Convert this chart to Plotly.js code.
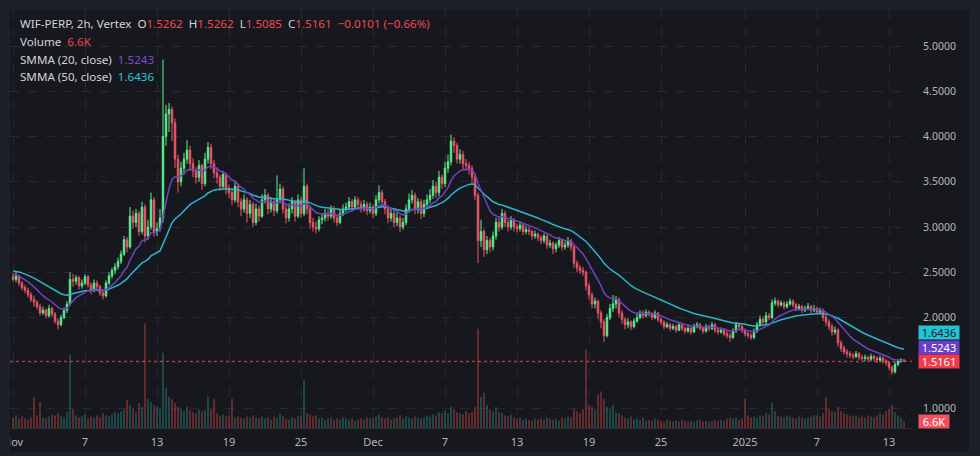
<!DOCTYPE html>
<html><head><meta charset="utf-8">
<script src="https://cdn.plot.ly/plotly-3.0.1.min.js"></script>
<style>html,body{margin:0;padding:0;background:#17181d;overflow:hidden}#chart{width:980px;height:456px}</style>
</head><body><div id="chart"></div>
<script>
// ---- DATA (6-hour candles, Nov 1 2024 00:00 UTC onward) ----
const startTime = Date.UTC(2024, 10, 1, 0, 0);
const stepHours = 6;
const open = [
2.45,2.42,2.46,2.38, 2.33,2.30,2.25,2.20, 2.17,2.12,2.05,2.08, 2.02,2.10,2.04,1.96, 1.92,2.00,2.08,2.15,
2.42,2.40,2.44,2.35, 2.38,2.45,2.36,2.30, 2.38,2.34,2.27,2.24, 2.38,2.46,2.52,2.56, 2.62,2.70,2.86,2.78,
3.12,3.05,3.15,2.95, 3.22,2.90,3.00,3.30, 2.95,2.98,3.10,4.00, 4.25,4.30,4.15,3.75, 3.50,3.65,3.75,3.85,
3.70,3.62,3.55,3.68, 3.48,3.75,3.88,3.70, 3.60,3.55,3.45,3.58, 3.42,3.38,3.30,3.45, 3.28,3.20,3.30,3.15,
3.25,3.05,3.20,3.12, 3.30,3.35,3.20,3.28, 3.18,3.30,3.42,3.20, 3.10,3.20,3.28,3.12, 3.30,3.15,3.45,3.20,
3.05,3.00,2.98,3.08, 3.10,3.15,3.12,3.20, 3.10,3.05,3.15,3.20, 3.22,3.28,3.22,3.30, 3.25,3.20,3.25,3.18,
3.22,3.15,3.30,3.38, 3.28,3.20,3.10,3.15, 3.05,3.10,3.00,3.05, 3.20,3.30,3.35,3.20, 3.28,3.15,3.25,3.30,
3.35,3.45,3.38,3.55, 3.48,3.65,3.72,3.95, 3.90,3.75,3.80,3.70, 3.68,3.65,3.55,3.35, 2.85,2.95,2.75,2.85,
2.78,2.90,3.05,3.00, 3.15,3.05,3.00,3.08, 3.00,2.98,3.02,2.95, 2.97,2.95,2.90,2.92, 2.88,2.85,2.90,2.80,
2.82,2.76,2.80,2.85, 2.78,2.80,2.85,2.78, 2.60,2.55,2.52,2.50, 2.35,2.25,2.15,2.18, 2.05,1.95,1.80,2.00,
2.10,2.15,2.20,2.05, 1.98,1.92,1.95,1.90, 1.96,2.00,2.05,2.02, 2.06,2.04,2.00,2.05, 1.98,1.95,1.90,1.92,
1.88,1.90,1.86,1.92, 1.88,1.85,1.88,1.84, 1.90,1.92,1.88,1.85, 1.90,1.88,1.92,1.86, 1.84,1.86,1.82,1.80,
1.78,1.85,1.92,1.90, 1.86,1.82,1.80,1.78, 1.85,1.92,1.98,1.95, 2.02,2.00,2.16,2.18, 2.14,2.16,2.12,2.15,
2.18,2.14,2.10,2.12, 2.08,2.10,2.12,2.08, 2.10,2.06,2.08,2.00, 1.95,1.90,1.84,1.86, 1.72,1.66,1.62,1.60,
1.58,1.57,1.60,1.56, 1.55,1.56,1.54,1.57, 1.55,1.53,1.55,1.52, 1.50,1.45,1.40,1.48, 1.52,1.53];
const high = [
2.49,2.50,2.47,2.40, 2.36,2.33,2.28,2.24, 2.19,2.15,2.12,2.10, 2.14,2.12,2.06,1.99, 2.03,2.11,2.18,2.50,
2.48,2.47,2.46,2.42, 2.48,2.47,2.39,2.42, 2.41,2.36,2.30,2.41, 2.50,2.55,2.60,2.66, 2.74,2.90,2.89,3.22,
3.18,3.20,3.18,3.28, 3.25,3.08,3.38,3.33, 3.05,3.20,4.85,4.35, 4.37,4.33,4.20,3.80, 3.72,3.82,3.96,3.90,
3.76,3.66,3.74,3.70, 3.82,3.94,3.92,3.74, 3.66,3.58,3.62,3.60, 3.47,3.42,3.50,3.48, 3.32,3.36,3.33,3.30,
3.28,3.26,3.24,3.36, 3.42,3.38,3.33,3.31, 3.57,3.48,3.45,3.24, 3.26,3.33,3.30,3.36, 3.34,3.65,3.48,3.24,
3.10,3.06,3.12,3.15, 3.20,3.19,3.24,3.23, 3.14,3.19,3.25,3.27, 3.33,3.31,3.34,3.33, 3.29,3.30,3.28,3.27,
3.25,3.35,3.46,3.41, 3.31,3.24,3.21,3.18, 3.16,3.13,3.10,3.25, 3.37,3.41,3.38,3.32, 3.31,3.30,3.36,3.42,
3.52,3.50,3.62,3.58, 3.72,3.80,4.02,3.99, 3.93,3.86,3.84,3.75, 3.72,3.68,3.58,3.38, 3.08,2.98,2.90,2.88,
2.95,3.10,3.10,3.20, 3.18,3.08,3.12,3.10, 3.04,3.06,3.04,3.01, 3.00,2.97,2.96,2.94, 2.91,2.93,2.92,2.86,
2.84,2.83,2.89,2.87, 2.84,2.89,2.87,2.80, 2.63,2.58,2.56,2.52, 2.38,2.28,2.22,2.20, 2.08,1.98,2.04,2.15,
2.25,2.24,2.22,2.08, 2.00,1.99,1.97,1.99, 2.04,2.08,2.08,2.09, 2.08,2.06,2.08,2.06, 2.00,1.97,1.95,1.94,
1.93,1.92,1.95,1.94, 1.90,1.91,1.90,1.93, 1.95,1.94,1.90,1.93, 1.92,1.95,1.94,1.89, 1.89,1.88,1.85,1.83,
1.88,1.95,1.94,1.92, 1.88,1.84,1.83,1.88, 1.95,2.02,2.01,2.06, 2.05,2.20,2.22,2.20, 2.19,2.18,2.18,2.21,
2.20,2.16,2.15,2.14, 2.13,2.16,2.14,2.14, 2.12,2.11,2.10,2.03, 1.98,1.93,1.90,1.88, 1.75,1.69,1.65,1.63,
1.61,1.63,1.62,1.59, 1.59,1.58,1.60,1.59, 1.57,1.58,1.57,1.54, 1.52,1.47,1.51,1.54, 1.55,1.54];
const low = [
2.40,2.39,2.35,2.30, 2.27,2.22,2.17,2.12, 2.09,2.02,2.03,1.99, 2.00,2.01,1.93,1.87, 1.90,1.98,2.05,2.13,
2.34,2.36,2.31,2.32, 2.36,2.33,2.26,2.28, 2.30,2.24,2.20,2.22, 2.36,2.43,2.48,2.53, 2.59,2.68,2.72,2.76,
2.98,3.00,2.90,2.92, 2.83,2.86,2.97,2.89, 2.90,2.95,3.05,3.90, 4.05,3.95,3.65,3.38, 3.45,3.58,3.70,3.62,
3.55,3.48,3.50,3.41, 3.45,3.70,3.64,3.54, 3.48,3.40,3.42,3.36, 3.32,3.24,3.27,3.22, 3.12,3.16,3.05,3.10,
3.00,3.02,3.06,3.10, 3.26,3.14,3.16,3.12, 3.15,3.26,3.15,3.04, 3.06,3.15,3.06,3.10, 3.10,3.12,3.14,2.98,
2.95,2.93,2.95,3.03, 3.06,3.07,3.09,3.05, 3.01,3.03,3.12,3.17, 3.19,3.18,3.19,3.20, 3.16,3.17,3.13,3.15,
3.10,3.12,3.26,3.22, 3.14,3.04,3.06,3.00, 3.01,2.94,2.97,3.02, 3.16,3.26,3.14,3.15, 3.09,3.11,3.21,3.26,
3.31,3.32,3.34,3.42, 3.44,3.60,3.68,3.82, 3.70,3.70,3.64,3.62, 3.58,3.48,3.30,2.60, 2.78,2.67,2.70,2.72,
2.74,2.86,2.95,2.97, 3.00,2.95,2.97,2.95, 2.94,2.95,2.91,2.92, 2.91,2.86,2.87,2.84, 2.81,2.82,2.76,2.77,
2.70,2.72,2.77,2.74, 2.75,2.77,2.74,2.55, 2.50,2.48,2.46,2.30, 2.20,2.10,2.10,1.98, 1.88,1.73,1.78,1.97,
2.06,2.10,2.00,1.93, 1.87,1.88,1.86,1.88, 1.94,1.98,1.99,2.00, 2.01,1.97,1.98,1.95, 1.92,1.87,1.88,1.85,
1.86,1.83,1.85,1.85, 1.82,1.83,1.81,1.83, 1.88,1.86,1.82,1.83, 1.85,1.86,1.83,1.81, 1.82,1.79,1.77,1.73,
1.76,1.83,1.87,1.83, 1.79,1.77,1.75,1.76, 1.83,1.90,1.92,1.93, 1.97,1.98,2.13,2.11, 2.12,2.09,2.10,2.13,
2.11,2.07,2.08,2.05, 2.06,2.08,2.05,2.06, 2.03,2.03,1.96,1.91, 1.86,1.80,1.81,1.68, 1.62,1.59,1.56,1.55,
1.54,1.55,1.53,1.52, 1.52,1.51,1.52,1.52, 1.50,1.51,1.49,1.47, 1.42,1.37,1.38,1.46, 1.50,1.5085];
const close = [
2.42,2.46,2.38,2.33, 2.30,2.25,2.20,2.17, 2.12,2.05,2.08,2.02, 2.10,2.04,1.96,1.92, 2.00,2.08,2.15,2.42,
2.40,2.44,2.35,2.38, 2.45,2.36,2.30,2.38, 2.34,2.27,2.24,2.38, 2.46,2.52,2.56,2.62, 2.70,2.86,2.78,3.12,
3.05,3.15,2.95,3.22, 2.90,3.00,3.30,2.95, 2.98,3.10,4.00,4.25, 4.30,4.15,3.75,3.50, 3.65,3.75,3.85,3.70,
3.62,3.55,3.68,3.48, 3.75,3.88,3.70,3.60, 3.55,3.45,3.58,3.42, 3.38,3.30,3.45,3.28, 3.20,3.30,3.15,3.25,
3.05,3.20,3.12,3.30, 3.35,3.20,3.28,3.18, 3.30,3.42,3.20,3.10, 3.20,3.28,3.12,3.30, 3.15,3.45,3.20,3.05,
3.00,2.98,3.08,3.10, 3.15,3.12,3.20,3.10, 3.05,3.15,3.20,3.22, 3.28,3.22,3.30,3.25, 3.20,3.25,3.18,3.22,
3.15,3.30,3.38,3.28, 3.20,3.10,3.15,3.05, 3.10,3.00,3.05,3.20, 3.30,3.35,3.20,3.28, 3.15,3.25,3.30,3.35,
3.45,3.38,3.55,3.48, 3.65,3.72,3.95,3.90, 3.75,3.80,3.70,3.68, 3.65,3.55,3.35,2.85, 2.95,2.75,2.85,2.78,
2.90,3.05,3.00,3.15, 3.05,3.00,3.08,3.00, 2.98,3.02,2.95,2.97, 2.95,2.90,2.92,2.88, 2.85,2.90,2.80,2.82,
2.76,2.80,2.85,2.78, 2.80,2.85,2.78,2.60, 2.55,2.52,2.50,2.35, 2.25,2.15,2.18,2.05, 1.95,1.80,2.00,2.10,
2.15,2.20,2.05,1.98, 1.92,1.95,1.90,1.96, 2.00,2.05,2.02,2.06, 2.04,2.00,2.05,1.98, 1.95,1.90,1.92,1.88,
1.90,1.86,1.92,1.88, 1.85,1.88,1.84,1.90, 1.92,1.88,1.85,1.90, 1.88,1.92,1.86,1.84, 1.86,1.82,1.80,1.78,
1.85,1.92,1.90,1.86, 1.82,1.80,1.78,1.85, 1.92,1.98,1.95,2.02, 2.00,2.16,2.18,2.14, 2.16,2.12,2.15,2.18,
2.14,2.10,2.12,2.08, 2.10,2.12,2.08,2.10, 2.06,2.08,2.00,1.95, 1.90,1.84,1.86,1.72, 1.66,1.62,1.60,1.58,
1.57,1.60,1.56,1.55, 1.56,1.54,1.57,1.55, 1.53,1.55,1.52,1.50, 1.45,1.40,1.48,1.52, 1.53,1.5161];
const volumeK = [
10,12,9,11, 9,8,10,30, 12,25,10,9, 11,13,12,14, 12,10,15,70,
18,12,10,11, 13,9,11,10, 12,10,14,12, 11,13,15,14, 16,18,27,22,
19,15,24,20, 100,28,25,22, 20,18,72,38, 30,28,24,20, 18,16,20,17,
15,14,18,16, 17,30,18,28, 14,12,13,11, 12,28,10,11, 10,9,11,10,
12,10,9,11, 9,10,8,11, 10,14,11,9, 8,10,9,11, 12,46,14,13,
11,12,9,10, 8,9,10,8, 9,8,10,9, 8,9,7,8, 9,8,10,9,
10,11,13,10, 9,10,8,9, 10,12,9,11, 10,9,11,10, 9,10,12,11,
13,12,15,14, 16,14,20,18, 15,14,13,16, 14,15,20,95, 30,34,22,18,
16,20,15,14, 12,11,13,10, 9,10,8,9, 8,7,9,8, 9,8,10,9,
8,9,7,10, 9,11,10,18, 16,14,18,75, 22,20,18,32, 35,28,20,18,
22,15,14,12, 10,9,11,8, 9,8,10,7, 8,7,9,8, 7,6,8,7,
6,7,6,8, 7,6,7,6, 7,8,6,7, 6,7,8,7, 8,7,9,10,
9,10,8,9, 28,12,10,11, 10,12,11,14, 13,24,16,12, 11,10,12,11,
10,9,11,10, 9,10,11,12, 12,11,14,30, 18,16,15,20, 16,14,13,12,
11,12,10,11, 10,12,11,10, 12,14,13,16, 18,22,15,12, 10,6.6];
// SMMA values just before the first visible candle, read from the left edge
const smmaSeed20 = 2.48, smmaSeed50 = 2.52;
// Values printed in the legend for the last 2h bar
const lastO = '1.5262', lastH = '1.5262', lastL = '1.5085', lastC = 1.5161;
const lastChange = '\u22120.0101 (\u22120.66%)', lastVolume = '6.6K', lastVolumeK = 6.6;
const smma20Last = 1.5243, smma50Last = 1.6436;
const tickDates = ['2024-11-01','2024-11-07','2024-11-13','2024-11-19','2024-11-25','2024-12-01','2024-12-07','2024-12-13','2024-12-19','2024-12-25','2025-01-01','2025-01-07','2025-01-13'];
const tickLabels = ['Nov','7','13','19','25','Dec','7','13','19','25','2025','7','13'];
const priceTicks = [1,1.5,2,2.5,3,3.5,4,4.5,5];

// ---- BUILD ----
const n = close.length;
const times = [];
for (let i = 0; i < n; i++) {
  times.push(new Date(startTime + i * stepHours * 3600e3).toISOString().slice(0,16).replace('T',' '));
}
// SMMA on 2h closes; each 6h candle = 3 steps
function smma(src, period, seed) {
  const a = 1 - Math.pow(1 - 1/period, 3);
  let s = seed;
  return src.map(c => (s = s + a * (c - s)));
}
const s20 = smma(close, 20, smmaSeed20);
const s50 = smma(close, 50, smmaSeed50);

const UP = '#5cf08d', DN = '#f0566a';
const volColors = close.map((c,i) => c >= open[i] ? 'rgba(38,166,154,0.42)' : 'rgba(239,83,80,0.42)');
const FONT = 'Noto Sans, Roboto, sans-serif';
const TXT = '#b2b5be', RED = '#f0475a';
const GRID = '#262932';

const traces = [
  {type:'bar', x:times, y:volumeK, yaxis:'y2', marker:{color:volColors, line:{width:0}}, hoverinfo:'skip'},
  {type:'candlestick', x:times, open:open, high:high, low:low, close:close,
   increasing:{line:{color:UP,width:1}, fillcolor:UP},
   decreasing:{line:{color:DN,width:1}, fillcolor:DN},
   whiskerwidth:0, hoverinfo:'skip'},
  {type:'scatter', mode:'lines', x:times, y:s50, line:{color:'#2bb5c8', width:1.5}, hoverinfo:'skip'},
  {type:'scatter', mode:'lines', x:times, y:s20, line:{color:'#6f42c4', width:1.5}, hoverinfo:'skip'}
];

const L = 10, R = 68, T = 10, B = 28, W = 980, H = 456;
const pw = W - L - R, ph = H - T - B;
const px2x = p => (p - L) / pw;
const py2y = p => (H - B - p) / ph;
const sp = '\u00a0\u00a0';
const red = t => `<span style="color:${RED}">${t}</span>`;
const HF = 11.6;

const annotations = [
  {xref:'paper', yref:'paper', x:px2x(18), y:py2y(24), xanchor:'left', yanchor:'middle', showarrow:false,
   font:{family:FONT, size:HF, color:'#d1d4dc'},
   text:`WIF-PERP, 2h, Vertex${sp}O${red(lastO)}${sp}H${red(lastH)}${sp}L${red(lastL)}${sp}C${red(lastC.toFixed(4))}${sp}${red(lastChange)}`},
  {xref:'paper', yref:'paper', x:px2x(18), y:py2y(42), xanchor:'left', yanchor:'middle', showarrow:false,
   font:{family:FONT, size:HF, color:'#d1d4dc'}, text:`Volume${sp}${red(lastVolume)}`},
  {xref:'paper', yref:'paper', x:px2x(18), y:py2y(59), xanchor:'left', yanchor:'middle', showarrow:false,
   font:{family:FONT, size:HF, color:'#d1d4dc'}, text:`SMMA (20, close)${sp}<span style="color:#7a4fd6">${smma20Last.toFixed(4)}</span>`},
  {xref:'paper', yref:'paper', x:px2x(18), y:py2y(76), xanchor:'left', yanchor:'middle', showarrow:false,
   font:{family:FONT, size:HF, color:'#d1d4dc'}, text:`SMMA (50, close)${sp}<span style="color:#26c6da">${smma50Last.toFixed(4)}</span>`},
  // right-hand value boxes
  {xref:'paper', yref:'y', x:px2x(918), y:smma50Last, yshift:17, xanchor:'left', yanchor:'middle', showarrow:false,
   text:smma50Last.toFixed(4), bgcolor:'#22c3d6', font:{family:FONT, size:11, color:'#131722'}, width:38, height:11, borderpad:1},
  {xref:'paper', yref:'y', x:px2x(918), y:smma20Last, yshift:12.7, xanchor:'left', yanchor:'middle', showarrow:false,
   text:smma20Last.toFixed(4), bgcolor:'#6a3fc8', font:{family:FONT, size:11, color:'#ffffff'}, width:38, height:11, borderpad:1},
  {xref:'paper', yref:'y', x:px2x(918), y:lastC, xanchor:'left', yanchor:'middle', showarrow:false,
   text:lastC.toFixed(4), bgcolor:'#f03a4d', font:{family:FONT, size:11, color:'#ffffff'}, width:38, height:11, borderpad:1},
  {xref:'paper', yref:'y2', x:px2x(918), y:lastVolumeK, xanchor:'left', yanchor:'middle', showarrow:false,
   text:lastVolume, bgcolor:'#f0505f', font:{family:FONT, size:11, color:'#ffffff'}, width:28, height:11, borderpad:1}
];

const FRAME = '#1e2029';
const shapes = [
  {type:'line', xref:'paper', yref:'y', x0:0, x1:1, y0:lastC, y1:lastC, line:{color:'#f03a4d', width:1, dash:'dot'}, layer:'below'},
  {type:'rect', xref:'paper', yref:'paper', x0:px2x(-2), x1:px2x(10), y0:py2y(460), y1:py2y(-2), fillcolor:FRAME, line:{width:0}, layer:'above'},
  {type:'rect', xref:'paper', yref:'paper', x0:px2x(-2), x1:px2x(982), y0:py2y(10), y1:py2y(-2), fillcolor:FRAME, line:{width:0}, layer:'above'},
  {type:'rect', xref:'paper', yref:'paper', x0:px2x(969), x1:px2x(982), y0:py2y(460), y1:py2y(-2), fillcolor:FRAME, line:{width:0}, layer:'above'},
  {type:'rect', xref:'paper', yref:'paper', x0:px2x(-2), x1:px2x(982), y0:py2y(460), y1:py2y(452), fillcolor:FRAME, line:{width:0}, layer:'above'}
];

const layout = {
  width:W, height:H, margin:{l:L, r:R, t:T, b:B},
  paper_bgcolor:'#17181d', plot_bgcolor:'#17181d',
  showlegend:false, bargap:0.45, dragmode:false, hovermode:false,
  font:{family:FONT, color:TXT},
  xaxis:{type:'date', range:['2024-10-31 18:00','2025-01-14 22:00'], tickvals:tickDates, ticktext:tickLabels,
    showgrid:true, gridcolor:GRID, griddash:'dash', gridwidth:1, zeroline:false,
    showline:true, linecolor:'#2a2e39', linewidth:1,
    ticks:'outside', ticklen:4, tickcolor:'rgba(0,0,0,0)', tickfont:{family:FONT, size:11, color:TXT},
    rangeslider:{visible:false}, fixedrange:true},
  yaxis:{range:[0.779, 5.398], side:'right', tickvals:priceTicks, tickformat:'.4f',
    showgrid:true, gridcolor:GRID, griddash:'dash', gridwidth:1, zeroline:false, showline:false,
    ticks:'outside', ticklen:8, tickcolor:'rgba(0,0,0,0)', tickfont:{family:FONT, size:10.5, color:TXT}, fixedrange:true},
  yaxis2:{overlaying:'y', range:[0,400], visible:false, fixedrange:true},
  annotations:annotations, shapes:shapes
};

Plotly.newPlot('chart', traces, layout, {staticPlot:true, displayModeBar:false});
</script>
</body></html>
